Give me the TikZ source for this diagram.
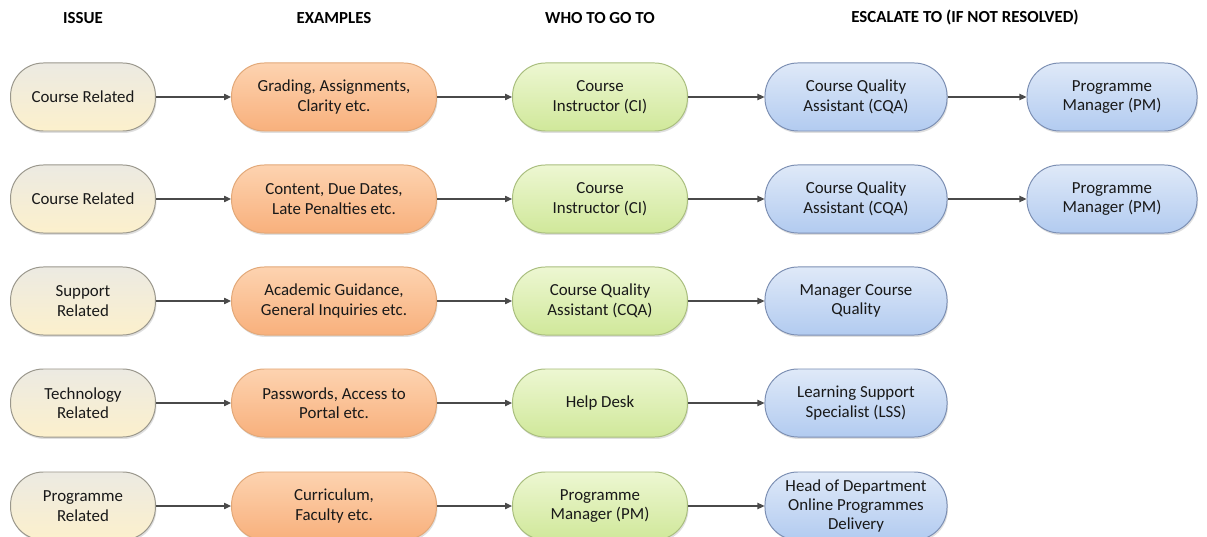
\documentclass[tikz,border=0pt]{standalone}
\usepackage{fontspec}
\setmainfont{Carlito}
\usetikzlibrary{shadows,arrows.meta}

\definecolor{issueTop}{HTML}{ECEAE2}
\definecolor{issueBot}{HTML}{FCF0CC}
\definecolor{issueLine}{HTML}{9A978C}
\definecolor{exTop}{HTML}{FDD3B0}
\definecolor{exBot}{HTML}{F8B07C}
\definecolor{exLine}{HTML}{E2A878}
\definecolor{whoTop}{HTML}{EDF7D2}
\definecolor{whoBot}{HTML}{D0E89A}
\definecolor{whoLine}{HTML}{A9BE7E}
\definecolor{escTop}{HTML}{DFE9F8}
\definecolor{escBot}{HTML}{B2CBF0}
\definecolor{escLine}{HTML}{7C8FB3}
\definecolor{arrowGray}{HTML}{4A4A4A}

\tikzset{
  box/.style={rounded corners=0.82cm, minimum height=1.7cm, align=center,
    font=\fontsize{12}{13.8}\selectfont, text=black!90, line width=0.7pt,
    drop shadow={opacity=0.25, shadow xshift=0.7pt, shadow yshift=-1.4pt}},
  issuebox/.style={box, draw=issueLine, top color=issueTop, bottom color=issueBot, minimum width=3.62cm},
  examplebox/.style={box, draw=exLine, top color=exTop, bottom color=exBot, minimum width=5.12cm},
  whobox/.style={box, draw=whoLine, top color=whoTop, bottom color=whoBot, minimum width=4.37cm},
  escbox/.style={box, draw=escLine, top color=escTop, bottom color=escBot, minimum width=4.55cm},
  escbox2/.style={escbox, minimum width=4.25cm},
  head/.style={font=\fontsize{12}{14}\selectfont\bfseries},
  link/.style={draw=arrowGray, line width=0.8pt, -{Triangle[length=5pt,width=4.5pt]}}
}

\begin{document}
\begin{tikzpicture}[x=0.025cm,y=-0.025cm]
\useasboundingbox (0,0) rectangle (1207,537);
\clip (0,0) rectangle (1207,537);

% column headings
\node [head] (hIssue) at (83,18) {ISSUE};
\node [head] (hEx) at (334,18) {EXAMPLES};
\node [head] (hWho) at (600,18) {WHO TO GO TO};
\node [head] (hEsc) at (965,18) {ESCALATE TO (IF NOT RESOLVED)};

% row 1
\node [issuebox] (i1) at (83,97) {Course Related};
\node [examplebox] (e1) at (334,97) {Grading, Assignments,\\Clarity etc.};
\node [whobox] (w1) at (600,97) {Course\\Instructor (CI)};
\node [escbox] (s1) at (856,97) {Course Quality\\Assistant (CQA)};
\node [escbox2] (t1) at (1112,97) {Programme\\Manager (PM)};

% row 2
\node [issuebox] (i2) at (83,199) {Course Related};
\node [examplebox] (e2) at (334,199) {Content, Due Dates,\\Late Penalties etc.};
\node [whobox] (w2) at (600,199) {Course\\Instructor (CI)};
\node [escbox] (s2) at (856,199) {Course Quality\\Assistant (CQA)};
\node [escbox2] (t2) at (1112,199) {Programme\\Manager (PM)};

% row 3
\node [issuebox] (i3) at (83,301) {Support\\Related};
\node [examplebox] (e3) at (334,301) {Academic Guidance,\\General Inquiries etc.};
\node [whobox] (w3) at (600,301) {Course Quality\\Assistant (CQA)};
\node [escbox] (s3) at (856,301) {Manager Course\\Quality};

% row 4
\node [issuebox] (i4) at (83,403) {Technology\\Related};
\node [examplebox] (e4) at (334,403) {Passwords, Access to\\Portal etc.};
\node [whobox] (w4) at (600,403) {Help Desk};
\node [escbox] (s4) at (856,403) {Learning Support\\Specialist (LSS)};

% row 5
\node [issuebox] (i5) at (83,506) {Programme\\Related};
\node [examplebox] (e5) at (334,506) {Curriculum,\\Faculty etc.};
\node [whobox] (w5) at (600,506) {Programme\\Manager (PM)};
\node [escbox] (s5) at (856,506) {Head of Department\\Online Programmes\\Delivery};

% connectors
\draw [link] (i1) -- (e1);
\draw [link] (e1) -- (w1);
\draw [link] (w1) -- (s1);
\draw [link] (s1) -- (t1);
\draw [link] (i2) -- (e2);
\draw [link] (e2) -- (w2);
\draw [link] (w2) -- (s2);
\draw [link] (s2) -- (t2);
\draw [link] (i3) -- (e3);
\draw [link] (e3) -- (w3);
\draw [link] (w3) -- (s3);
\draw [link] (i4) -- (e4);
\draw [link] (e4) -- (w4);
\draw [link] (w4) -- (s4);
\draw [link] (i5) -- (e5);
\draw [link] (e5) -- (w5);
\draw [link] (w5) -- (s5);

\end{tikzpicture}
\end{document}
